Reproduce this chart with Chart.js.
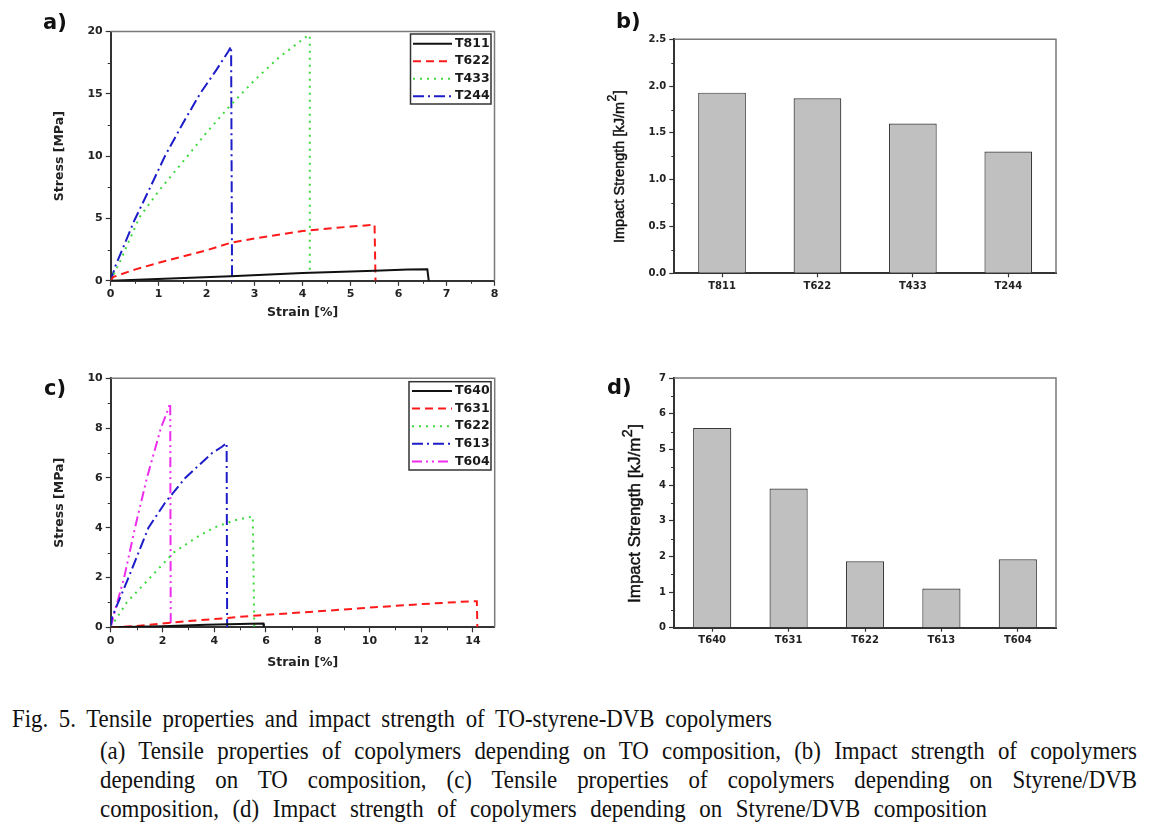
<!DOCTYPE html>
<html><head><meta charset="utf-8">
<script src="https://cdn.jsdelivr.net/npm/chart.js@4.4.1/dist/chart.umd.min.js"></script>
<style>
html,body{margin:0;padding:0;background:#fff;}
body{width:1154px;height:830px;position:relative;overflow:hidden;}
canvas{position:absolute;}
.cap{position:absolute;font-family:"Liberation Serif","Times New Roman",serif;font-size:26px;line-height:26px;color:#111;transform-origin:0 0;text-align:justify;text-align-last:justify;}
</style></head><body>
<canvas id="ca" width="560" height="330" style="left:0;top:0"></canvas>
<canvas id="cb" width="574" height="330" style="left:580px;top:0"></canvas>
<canvas id="cc" width="560" height="340" style="left:0;top:340px"></canvas>
<canvas id="cd" width="574" height="330" style="left:580px;top:340px"></canvas>
<div class="cap" id="l1"></div>
<div class="cap" id="l2"></div>
<div class="cap" id="l3"></div>
<div class="cap" id="l4"></div>
<script>
// ---------- Panel a: tensile, TO composition ----------
const aSeriesNames = ['T811', 'T622', 'T433', 'T244'];
const aT811Strain = [0, 0.7, 2.5, 4.0, 5.5, 6.2, 6.6, 6.63];
const aT811Stress = [0, 0.1, 0.37, 0.62, 0.8, 0.9, 0.92, 0];
const aT622Strain = [0, 0.05, 0.5, 1.0, 2.0, 2.5, 3.0, 4.0, 5.0, 5.5, 5.52];
const aT622Stress = [0, 0.3, 0.9, 1.45, 2.45, 3.05, 3.4, 4.0, 4.35, 4.5, 0];
const aT433Strain = [0, 0.2, 0.6, 1.0, 1.6, 2.0, 2.5, 3.0, 3.5, 4.1, 4.15, 4.15];
const aT433Stress = [0, 1.6, 5.1, 7.2, 10.0, 11.9, 14.1, 16.1, 17.9, 19.65, 19.7, 0.5];
const aT244Strain = [0, 0.1, 0.5, 0.8, 1.13, 1.5, 1.86, 2.2, 2.45, 2.51, 2.53];
const aT244Stress = [0, 1.2, 4.9, 7.3, 10.0, 12.6, 15.0, 16.9, 18.4, 18.8, 0];
const aXTicks = [0, 1, 2, 3, 4, 5, 6, 7, 8];
const aYTicks = [0, 5, 10, 15, 20];
const aXMinor = [0.5, 1.5, 2.5, 3.5, 4.5, 5.5, 6.5, 7.5];
const aYMinor = [2.5, 7.5, 12.5, 17.5];

// ---------- Panel b: impact strength, TO composition ----------
const bCategories = ['T811', 'T622', 'T433', 'T244'];
const bImpact = [1.93, 1.87, 1.60, 1.30];
const bYTicks = [0, 0.5, 1.0, 1.5, 2.0, 2.5];
const bYMinor = [0.25, 0.75, 1.25, 1.75, 2.25];

// ---------- Panel c: tensile, Styrene/DVB composition ----------
const cSeriesNames = ['T640', 'T631', 'T622', 'T613', 'T604'];
const cT640Strain = [0, 2.0, 3.7, 5.4, 5.9, 5.92];
const cT640Stress = [0, 0.04, 0.1, 0.14, 0.15, 0];
const cT631Strain = [0, 1, 2, 3, 4, 5, 6, 8, 10, 12, 14, 14.15, 14.17];
const cT631Stress = [0, 0.05, 0.15, 0.25, 0.33, 0.42, 0.5, 0.64, 0.79, 0.93, 1.05, 1.05, 0];
const cT622Strain = [0, 0.62, 1.53, 2.43, 3.3, 3.98, 4.8, 5.49, 5.55];
const cT622Stress = [0, 1.0, 2.0, 3.0, 3.6, 4.0, 4.3, 4.45, 0];
const cT613Strain = [0, 0.05, 0.69, 1.46, 2.1, 2.88, 3.92, 4.3, 4.48, 4.5];
const cT613Stress = [0, 0.4, 2.0, 4.0, 5.0, 6.0, 7.0, 7.25, 7.4, 0];
const cT604Strain = [0, 0.2, 0.52, 0.94, 1.40, 1.94, 2.2, 2.3, 2.32];
const cT604Stress = [0, 0.8, 2.0, 4.0, 6.0, 8.0, 8.7, 9.0, 0];
const cXTicks = [0, 2, 4, 6, 8, 10, 12, 14];
const cYTicks = [0, 2, 4, 6, 8, 10];
const cXMinor = [1, 3, 5, 7, 9, 11, 13];
const cYMinor = [1, 3, 5, 7, 9];

// ---------- Panel d: impact strength, Styrene/DVB composition ----------
const dCategories = ['T640', 'T631', 'T622', 'T613', 'T604'];
const dImpact = [5.6, 3.9, 1.86, 1.10, 1.92];
const dYTicks = [0, 1, 2, 3, 4, 5, 6, 7];
const dYMinor = [0.5, 1.5, 2.5, 3.5, 4.5, 5.5, 6.5];

// ---------- Caption ----------
const captionLines = [
  'Fig. 5. Tensile properties and impact strength of TO-styrene-DVB copolymers',
  '(a) Tensile properties of copolymers depending on TO composition, (b) Impact strength of copolymers',
  'depending on TO composition, (c) Tensile properties of copolymers depending on Styrene/DVB',
  'composition, (d) Impact strength of copolymers depending on Styrene/DVB composition'
];

// ================= drawing =================
const pts = (xs, ys) => xs.map((x, i) => ({x: x, y: ys[i]}));
const TICK_FONT = {family: 'DejaVu Sans', weight: 'bold', size: 11};
const BAR_TICK_FONT = {family: 'DejaVu Sans', weight: 'bold', size: 10};
const TITLE_FONT = {family: 'DejaVu Sans', weight: 'bold', size: 12.5};
const GRID = {display: true, drawOnChartArea: false, drawTicks: true, tickLength: 5, tickColor: '#333', tickWidth: 1.2, color: '#333'};
const BORDER = {display: true, color: '#333', width: 2};

const STYLES = {
  solid:   {color: '#111111', dash: []},
  dash:    {color: '#ff1a1a', dash: [8, 5]},
  dot:     {color: '#3fd83f', dash: [2, 5]},
  dashdot: {color: '#1c1cc8', dash: [11, 4, 2, 4]},
  dashdotdot: {color: '#ee2cee', dash: [10, 4, 2, 4, 2, 4]}
};
function lineDs(label, xs, ys, st) {
  const s = STYLES[st];
  return {label: label, data: pts(xs, ys), borderColor: s.color, backgroundColor: s.color,
    borderDash: s.dash, borderWidth: 2, pointRadius: 0, tension: 0, fill: false};
}

const deco = {
  id: 'deco',
  afterDraw(chart, args, o) {
    const ctx = chart.ctx, ca = chart.chartArea;
    ctx.save();
    // top/right frame
    ctx.strokeStyle = '#7a7a7a'; ctx.lineWidth = 1.5; ctx.setLineDash([]);
    ctx.beginPath(); ctx.moveTo(ca.left, ca.top); ctx.lineTo(ca.right, ca.top); ctx.lineTo(ca.right, ca.bottom); ctx.stroke();
    // minor ticks
    ctx.strokeStyle = '#333'; ctx.lineWidth = 1;
    if (o.xMinor) {
      const s = chart.scales.x;
      o.xMinor.forEach(v => { const p = Math.round(s.getPixelForValue(v)) + 0.5; ctx.beginPath(); ctx.moveTo(p, ca.bottom); ctx.lineTo(p, ca.bottom + 3); ctx.stroke(); });
    }
    if (o.yMinor) {
      const s = chart.scales.y;
      o.yMinor.forEach(v => { const p = Math.round(s.getPixelForValue(v)) + 0.5; ctx.beginPath(); ctx.moveTo(ca.left, p); ctx.lineTo(ca.left - 3, p); ctx.stroke(); });
    }
    // legend
    if (o.legend) {
      const L = o.legend;
      ctx.fillStyle = '#fff';
      ctx.fillRect(L.x, L.y, L.w, L.h);
      ctx.strokeStyle = '#333'; ctx.lineWidth = 1.5;
      ctx.strokeRect(L.x, L.y, L.w, L.h);
      ctx.font = 'bold 12.5px "DejaVu Sans"'; ctx.textBaseline = 'middle'; ctx.textAlign = 'left';
      chart.data.datasets.forEach((ds, i) => {
        const y = L.row0 + i * L.rowH;
        ctx.strokeStyle = ds.borderColor; ctx.lineWidth = 2; ctx.setLineDash(ds.borderDash || []);
        ctx.beginPath(); ctx.moveTo(L.l1, y); ctx.lineTo(L.l2, y); ctx.stroke();
        ctx.setLineDash([]);
        ctx.fillStyle = '#1a1a1a';
        ctx.fillText(ds.label, L.tx, y);
      });
    }
    // panel label
    if (o.label) {
      ctx.font = 'bold 21px "DejaVu Sans"'; ctx.fillStyle = '#111'; ctx.textBaseline = 'alphabetic'; ctx.textAlign = 'left';
      ctx.fillText(o.label, o.labelX, o.labelY);
    }
    // rotated y title with superscript
    if (o.yTitle) {
      const t = o.yTitle;
      ctx.translate(t.x, t.y); ctx.rotate(-Math.PI / 2);
      ctx.fillStyle = '#111'; ctx.strokeStyle = '#111'; ctx.lineWidth = 0.45;
      ctx.textBaseline = 'alphabetic'; ctx.textAlign = 'left';
      const put = (s, x, y) => { ctx.fillText(s, x, y); ctx.strokeText(s, x, y); };
      ctx.font = t.size + 'px "Liberation Sans"';
      put(t.text, 0, 0);
      let w = ctx.measureText(t.text).width;
      ctx.font = (t.size * 0.85) + 'px "Liberation Sans"';
      put(t.sup, w + 0.5, -t.size * 0.5);
      w += ctx.measureText(t.sup).width + 1;
      ctx.font = t.size + 'px "Liberation Sans"';
      put(t.tail, w, 0);
    }
    ctx.restore();
  }
};

function lineChart(id, datasets, g) {
  return new Chart(document.getElementById(id), {
    type: 'line',
    data: {datasets: datasets},
    plugins: [deco],
    options: {
      responsive: false, animation: false, events: [],
      layout: {padding: {left: 0, top: g.top, right: g.right, bottom: 0}},
      plugins: {legend: {display: false}, tooltip: {enabled: false}, deco: g.deco},
      scales: {
        x: {type: 'linear', min: g.xMin, max: g.xMax,
          afterBuildTicks: s => { s.ticks = g.xTicks.map(v => ({value: v})); },
          afterFit: s => { s.height = g.xH; },
          ticks: {font: TICK_FONT, color: '#222', padding: 2, maxRotation: 0},
          grid: GRID, border: BORDER,
          title: {display: true, text: g.xTitle, font: TITLE_FONT, color: '#222', padding: {top: 0, bottom: g.xTitlePad}}},
        y: {type: 'linear', min: g.yMin, max: g.yMax,
          afterBuildTicks: s => { s.ticks = g.yTicks.map(v => ({value: v})); },
          afterFit: s => { s.width = g.yW; },
          ticks: {font: TICK_FONT, color: '#222', padding: 3},
          grid: GRID, border: BORDER,
          title: {display: true, text: g.yTitle, font: TITLE_FONT, color: '#222', padding: {top: g.yTitlePad, bottom: 0}}}
      }
    }
  });
}

function barChart(id, cats, vals, g) {
  return new Chart(document.getElementById(id), {
    type: 'bar',
    data: {labels: cats, datasets: [{label: 'Impact Strength', data: vals, backgroundColor: '#c0c0c0',
      borderColor: '#3a3a3a', borderWidth: 1.2, borderSkipped: 'bottom', barPercentage: 0.5, categoryPercentage: 1.0}]},
    plugins: [deco],
    options: {
      responsive: false, animation: false, events: [],
      layout: {padding: {left: 0, top: g.top, right: g.right, bottom: 0}},
      plugins: {legend: {display: false}, tooltip: {enabled: false}, deco: g.deco},
      scales: {
        x: {type: 'category', offset: true,
          afterFit: s => { s.height = g.xH; },
          ticks: {font: BAR_TICK_FONT, color: '#222', padding: 3},
          grid: Object.assign({}, GRID, {offset: false, tickLength: 4}), border: BORDER},
        y: {type: 'linear', min: g.yMin, max: g.yMax,
          afterBuildTicks: s => { s.ticks = g.yTicks.map(v => ({value: v})); },
          afterFit: s => { s.width = g.yW; },
          ticks: {font: BAR_TICK_FONT, color: '#222', padding: 3, callback: g.fmt},
          grid: GRID, border: BORDER}
      }
    }
  });
}

lineChart('ca', [
  lineDs(aSeriesNames[0], aT811Strain, aT811Stress, 'solid'),
  lineDs(aSeriesNames[1], aT622Strain, aT622Stress, 'dash'),
  lineDs(aSeriesNames[2], aT433Strain, aT433Stress, 'dot'),
  lineDs(aSeriesNames[3], aT244Strain, aT244Stress, 'dashdot')
], {top: 31.5, right: 65.5, xH: 49.2, yW: 110.7, xMin: 0, xMax: 8, yMin: 0, yMax: 20,
  xTicks: aXTicks, yTicks: aYTicks, xTitle: 'Strain [%]', yTitle: 'Stress [MPa]', xTitlePad: 9.5, yTitlePad: 52.5,
  deco: {label: 'a)', labelX: 43, labelY: 29, xMinor: aXMinor, yMinor: aYMinor,
    legend: {x: 410.5, y: 34, w: 80.5, h: 70, row0: 43.7, rowH: 17.5, l1: 413, l2: 452, tx: 455}}});

barChart('cb', bCategories, bImpact, {top: 39.3, right: 98, xH: 56.7, yW: 94.3, yMin: 0, yMax: 2.5,
  yTicks: bYTicks, fmt: v => Number(v).toFixed(1),
  deco: {label: 'b)', labelX: 36, labelY: 28, yMinor: bYMinor,
    yTitle: {text: 'Impact Strength [kJ/m', sup: '2', tail: ']', x: 43.7, y: 243, size: 14.5}}});

lineChart('cc', [
  lineDs(cSeriesNames[0], cT640Strain, cT640Stress, 'solid'),
  lineDs(cSeriesNames[1], cT631Strain, cT631Stress, 'dash'),
  lineDs(cSeriesNames[2], cT622Strain, cT622Stress, 'dot'),
  lineDs(cSeriesNames[3], cT613Strain, cT613Stress, 'dashdot'),
  lineDs(cSeriesNames[4], cT604Strain, cT604Stress, 'dashdotdot')
], {top: 38.3, right: 65.3, xH: 52.7, yW: 110.7, xMin: 0, xMax: 14.84, yMin: 0, yMax: 10,
  xTicks: cXTicks, yTicks: cYTicks, xTitle: 'Strain [%]', yTitle: 'Stress [MPa]', xTitlePad: 9.8, yTitlePad: 52.5,
  deco: {label: 'c)', labelX: 44, labelY: 55, xMinor: cXMinor, yMinor: cYMinor,
    legend: {x: 409, y: 41.7, w: 82, h: 88.3, row0: 51, rowH: 17.6, l1: 412, l2: 452, tx: 455}}});

barChart('cd', dCategories, dImpact, {top: 38, right: 98, xH: 42.3, yW: 94, yMin: 0, yMax: 7,
  yTicks: dYTicks, fmt: v => String(v),
  deco: {label: 'd)', labelX: 27, labelY: 54, yMinor: dYMinor,
    yTitle: {text: 'Impact Strength [kJ/m', sup: '2', tail: ']', x: 60, y: 263, size: 17}}});

// caption layout
const CAP_SCALE = 0.88;
const capBoxes = [
  {left: 12, top: 706, width: 760},
  {left: 100, top: 738, width: 1037},
  {left: 100, top: 767, width: 1037},
  {left: 100, top: 796, width: 887}
];
captionLines.forEach((txt, i) => {
  const el = document.getElementById('l' + (i + 1));
  const b = capBoxes[i];
  el.textContent = txt;
  el.style.left = b.left + 'px';
  el.style.top = b.top + 'px';
  el.style.width = (b.width / CAP_SCALE) + 'px';
  el.style.transform = 'scaleX(' + CAP_SCALE + ')';
});
</script>
</body></html>
